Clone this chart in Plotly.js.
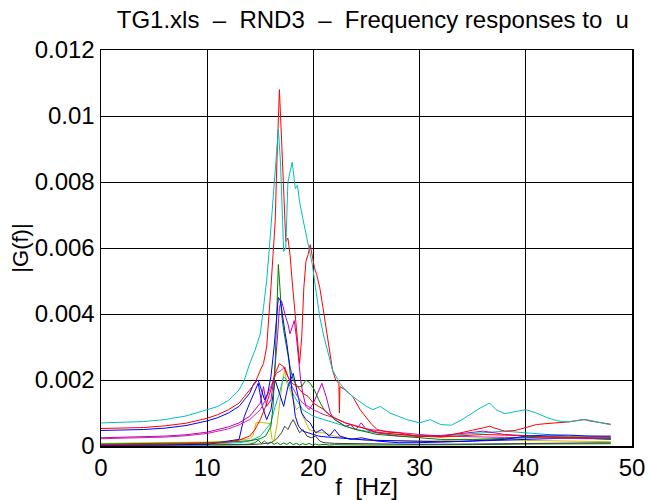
<!DOCTYPE html>
<html>
<head>
<meta charset="utf-8">
<script src="https://cdn.plot.ly/plotly-3.0.1.min.js"></script>
<style>html,body{margin:0;padding:0;background:#fff;}#chart{width:649px;height:500px;}</style>
</head>
<body>
<div id="chart"></div>
<script>
// Tick labels
var xTicks = [0, 10, 20, 30, 40, 50];
var yTicks = [0, 0.002, 0.004, 0.006, 0.008, 0.01, 0.012];
var yTickText = ['0', '0.002', '0.004', '0.006', '0.008', '0.01', '0.012'];

// Cyan (main)
var fCyan = [0,2,4,6,8,10,11,12,13,13.5,14,14.5,15,15.3,15.6,15.9,16.2,16.4,16.7,16.9,17.1,17.2,17.4,17.6,18.0,18.1,18.3,18.5,18.7,19.0,19.4,19.9,20.2,20.6,21.0,21.3,21.8,22.5,23,23.7,24.1,25,25.6,26.3,27.2,28,28.8,30,31,32,33,34,34.4,35,35.7,36.6,37.2,38,39,40,41,42,43,44,45,45.5,46,47,48];
var gCyan = [0.0007,0.00071,0.00074,0.0008,0.00091,0.0011,0.0012,0.00138,0.0017,0.002,0.0025,0.0029,0.0034,0.0042,0.005,0.0062,0.0075,0.0081,0.0096,0.0086,0.0065,0.0059,0.006,0.008,0.0086,0.0083,0.0078,0.0079,0.0074,0.0069,0.0063,0.0055,0.0048,0.0039,0.0033,0.0029,0.0023,0.0019,0.0017,0.0015,0.0014,0.0012,0.0011,0.0012,0.001,0.0009,0.0008,0.0007,0.0008,0.00065,0.00063,0.0008,0.00088,0.001,0.00115,0.0013,0.0011,0.00098,0.00103,0.0011,0.001,0.00086,0.00076,0.00073,0.00078,0.0008,0.00078,0.0007,0.00064];

// Red (main)
var fRed = [0,2,4,6,8,10,11,12,12.5,13,13.5,14,14.5,15,15.3,15.6,15.8,16.0,16.2,16.4,16.6,16.8,17.0,17.2,17.4,17.6,17.8,18.0,18.2,18.4,18.7,18.9,19.1,19.3,19.5,19.7,19.9,20.1,20.3,20.6,20.9,21.3,21.8,22.1,22.4,22.45,22.5,23,23.7,24.4,25,25.5,26,27,28,29,30,31,32,33,34,35,36,36.6,37,38,39,40,40.5,41,42,43,44,45,45.5,46,47,48];
var gRed = [0.00053,0.00054,0.00056,0.00061,0.00069,0.00084,0.00095,0.0011,0.0012,0.0013,0.0015,0.0017,0.0019,0.0023,0.0025,0.003,0.0038,0.0048,0.0058,0.0068,0.009,0.0108,0.0093,0.0075,0.0062,0.0063,0.0058,0.005,0.0043,0.0036,0.0025,0.0033,0.0048,0.0056,0.0058,0.0061,0.0057,0.0054,0.0052,0.0048,0.0042,0.0034,0.0023,0.002,0.0019,0.001,0.0018,0.0017,0.0015,0.0011,0.00085,0.00065,0.0005,0.00042,0.0004,0.00035,0.00028,0.0003,0.00028,0.00034,0.0004,0.00048,0.00055,0.0006,0.00055,0.00045,0.00047,0.00055,0.0006,0.00065,0.00068,0.0007,0.00073,0.00078,0.0008,0.00076,0.0007,0.00066];

// Red (second)
var fRed2 = [0,5,10,12,13,14,14.5,15,15.5,16,16.4,16.8,17.2,17.6,18,18.5,19,19.5,20,20.5,21,21.5,22,23,24,25,26,27,28,30,32,34,36,38,40,42,44,46,48];
var gRed2 = [0.00004,0.00005,0.00008,0.00012,0.00018,0.0003,0.0005,0.0008,0.0012,0.0017,0.0022,0.0025,0.0024,0.0021,0.0019,0.0018,0.0016,0.0015,0.0013,0.0012,0.0011,0.00095,0.00085,0.0007,0.0006,0.0005,0.00042,0.00038,0.00035,0.0003,0.00027,0.0003,0.00035,0.00033,0.0003,0.00028,0.00027,0.00027,0.00026];

// Blue (main)
var fBlue = [0,2,4,6,8,10,11,12,13,13.5,14,14.4,14.8,15.1,15.4,15.7,16.0,16.3,16.5,16.7,16.9,17.1,17.3,17.5,17.7,17.9,18.1,18.3,18.6,19,19.5,20,20.5,21,22,23,24,25,26,27,28,30,32,34,36,38,40,42,44,46,48];
var gBlue = [0.00047,0.00048,0.0005,0.00054,0.00062,0.00076,0.00086,0.001,0.0012,0.0014,0.0016,0.0019,0.002,0.0017,0.0014,0.0016,0.0021,0.003,0.0038,0.0045,0.0044,0.0039,0.0035,0.0031,0.0026,0.0019,0.0013,0.0009,0.0006,0.00045,0.0004,0.00035,0.0003,0.00028,0.00025,0.00022,0.0002,0.00018,0.00017,0.00016,0.00015,0.00013,0.00013,0.00014,0.00016,0.0002,0.0003,0.00033,0.00033,0.0003,0.0003];

// Blue (second)
var fBlue2 = [0,10,13,13.5,14,14.5,14.8,15.2,15.6,16,16.4,16.8,17.2,17.6,18.1,18.5,18.9,19.3,19.7,20.2,20.8,21.5,22,22.5,23.5,24.5,26,28,30,35,40,45,48];
var gBlue2 = [0.00002,0.00005,0.0002,0.0009,0.0013,0.0017,0.0019,0.0012,0.0008,0.0011,0.002,0.0016,0.0012,0.0018,0.0022,0.0016,0.001,0.0008,0.0007,0.0004,0.0005,0.0003,0.0005,0.0003,0.0002,0.00025,0.00015,0.0001,0.0001,0.00015,0.0002,0.00025,0.0002];

// Magenta (main)
var fMag = [0,2,4,6,8,10,12,13,14,14.5,15,15.3,15.6,16,16.3,16.6,16.8,17.0,17.2,17.4,17.6,17.8,18.0,18.2,18.4,18.6,18.8,19.0,19.3,19.6,20,20.4,20.8,21.2,21.6,22,22.5,23,23.5,24,24.5,25,25.5,26,27,28,30,32,34,36,38,40,42,44,46,48];
var gMag = [0.00025,0.00026,0.00027,0.0003,0.00034,0.00042,0.00058,0.0007,0.0009,0.0011,0.0013,0.0018,0.0012,0.0014,0.0021,0.0032,0.0042,0.0044,0.0041,0.0039,0.0037,0.0034,0.0036,0.0038,0.0033,0.0026,0.002,0.0016,0.0012,0.0011,0.0013,0.0016,0.0019,0.0015,0.001,0.0008,0.0007,0.0006,0.00064,0.0005,0.0007,0.0005,0.00045,0.0004,0.00035,0.0003,0.0003,0.00032,0.00038,0.00045,0.00035,0.0003,0.00027,0.00025,0.00024,0.00022];

// Magenta (second)
var fMag2 = [0,2,4,6,8,10,12,13,14,15,15.5,16,16.5,17,17.3,17.6,18,18.5,19,19.5,20,21,22,23,24,25,26,28,30,32,34,36,38,40,42,44,46,48];
var gMag2 = [0.00022,0.00023,0.00024,0.00027,0.00031,0.00038,0.00052,0.00064,0.0008,0.0011,0.0014,0.0018,0.0022,0.0023,0.0024,0.0021,0.0018,0.0015,0.0013,0.0012,0.0011,0.00095,0.00085,0.0007,0.0006,0.00052,0.00047,0.0004,0.00035,0.0003,0.00028,0.00027,0.00026,0.00025,0.00024,0.00023,0.00022,0.00021];

// Green (main)
var fGreen = [0,5,10,12,14,15,15.5,16,16.2,16.4,16.55,16.7,16.85,17,17.2,17.5,17.8,18.1,18.5,18.9,19.3,19.7,20.1,20.5,21,21.5,22,22.5,23,24,25,26,28,30,32,35,38,40,42,44,46,48];
var gGreen = [0.00006,0.00007,0.0001,0.00012,0.00016,0.00022,0.0003,0.0006,0.0012,0.0025,0.0042,0.0055,0.0048,0.004,0.0035,0.0029,0.0024,0.002,0.0018,0.0018,0.002,0.0019,0.0017,0.0014,0.0011,0.00095,0.0008,0.0007,0.0006,0.0005,0.00042,0.00035,0.0003,0.00025,0.0002,0.0002,0.00022,0.00025,0.00028,0.00027,0.00025,0.00022];

// Green (low)
var fGreen2 = [0,5,10,13,14,14.5,14.8,15.1,15.4,15.7,16,16.3,16.6,16.9,17.2,17.5,17.8,18.1,18.4,18.7,19,19.3,19.6,19.9,20.2,20.5,21,21.5,22,23,24,25,26,28,30,35,40,45,48];
var gGreen2 = [0.00002,0.00002,0.00003,0.00004,0.00006,0.0001,0.00018,0.00008,0.00015,0.00006,0.00012,0.00005,0.0001,0.00004,0.00009,0.00005,0.00011,0.00004,0.00008,0.00003,0.00007,0.00004,0.00008,0.00003,0.00006,0.00003,0.00005,0.00003,0.00004,0.00003,0.00004,0.00003,0.00003,0.00003,0.00003,0.00004,0.00006,0.00008,0.00007];

// Yellow
var fYellow = [0,5,10,12,13,14,14.3,14.6,15,15.5,15.9,16.1,16.3,16.6,16.9,17.1,17.3,17.5,17.8,18.1,18.4,18.7,19,19.3,19.6,20,20.5,21,21.5,22,23,24,25,26,28,30,32,34,36,38,40,42,44,46,48];
var gYellow = [0.00008,0.00009,0.00012,0.00015,0.00018,0.00022,0.0003,0.0007,0.00072,0.0007,0.00068,0.0002,0.00015,0.0007,0.0015,0.002,0.0023,0.0019,0.0017,0.0014,0.0011,0.0012,0.0009,0.0007,0.0005,0.00045,0.0004,0.0004,0.00035,0.0003,0.00025,0.0002,0.00018,0.00017,0.00015,0.00015,0.00016,0.00018,0.0002,0.00018,0.00017,0.00016,0.00015,0.00014,0.00013];

// Grey
var fGrey = [0,10,14,15,16,16.5,17,17.3,17.6,17.9,18.1,18.4,18.7,19,19.4,19.8,20.2,20.6,21,22,24,26,30,35,40,45,48];
var gGrey = [0.00001,0.00002,0.00004,0.00006,0.0001,0.0002,0.0004,0.0006,0.0005,0.0007,0.0008,0.0006,0.0004,0.0005,0.0003,0.00025,0.0003,0.00015,0.0001,0.00008,0.00007,0.00006,0.00005,0.00006,0.00008,0.0001,0.0001];

// Cyan (second)
var fCyan2 = [0,5,10,13,14,15,15.5,16,16.4,16.8,17.2,17.5,17.8,18.2,18.6,19,19.5,20,21,22,23,24,25,26,28,30,32,34,36,38,40,42,44,46,48];
var gCyan2 = [0.00003,0.00004,0.00006,0.0001,0.00015,0.0003,0.0005,0.0007,0.0012,0.0016,0.0021,0.002,0.0018,0.0015,0.0013,0.0011,0.001,0.0009,0.0008,0.0007,0.0006,0.0005,0.00045,0.0004,0.00035,0.00033,0.0003,0.00035,0.0004,0.00045,0.0004,0.00035,0.0003,0.0003,0.00028];

var series = [
  [fGreen2, gGreen2, '#007f00'],
  [fGrey, gGrey, '#404040'],
  [fYellow, gYellow, '#bfbf00'],
  [fCyan2, gCyan2, '#00bfbf'],
  [fBlue2, gBlue2, '#0000ff'],
  [fMag2, gMag2, '#d0209f'],
  [fMag, gMag, '#bf00bf'],
  [fGreen, gGreen, '#008000'],
  [fRed2, gRed2, '#ff0000'],
  [fBlue, gBlue, '#0000ff'],
  [fRed, gRed, '#ff0000'],
  [fCyan, gCyan, '#00bfbf']
];

var traces = series.map(function (s) {
  return {x: s[0], y: s[1], type: 'scatter', mode: 'lines',
          line: {color: s[2], width: 1}, hoverinfo: 'skip'};
});

var font = 'Liberation Sans, Arial, Helvetica, sans-serif';
var axisCommon = {
  showgrid: true, gridcolor: '#000000', gridwidth: 1,
  showline: true, linecolor: '#000000', linewidth: 1.5, mirror: true,
  zeroline: false, ticks: 'inside', ticklen: 5, tickcolor: '#000000',
  tickfont: {family: font, size: 24, color: '#000000'}
};

var layout = {
  width: 649, height: 500,
  margin: {l: 101, r: 17, t: 50, b: 54},
  paper_bgcolor: '#ffffff', plot_bgcolor: '#ffffff',
  showlegend: false,
  title: {text: 'TG1.xls\u00a0\u00a0\u2013\u00a0\u00a0RND3\u00a0\u00a0\u2013\u00a0\u00a0Frequency responses to\u00a0\u00a0u',
          font: {family: font, size: 24, color: '#000000'},
          x: 0.512, xref: 'paper', xanchor: 'center', y: 0.96, yref: 'container', yanchor: 'middle'},
  xaxis: Object.assign({}, axisCommon, {
    range: [0, 50], tickvals: xTicks, ticktext: xTicks.map(String),
    title: {text: 'f\u00a0\u00a0[Hz]', font: {family: font, size: 24, color: '#000000'}, standoff: 8}
  }),
  yaxis: Object.assign({}, axisCommon, {
    range: [0, 0.012], tickvals: yTicks, ticktext: yTickText,
    title: {text: '|G(f)|', font: {family: font, size: 22, color: '#000000'}, standoff: 0}
  })
};

Plotly.newPlot('chart', traces, layout, {staticPlot: true, displayModeBar: false});
</script>
</body>
</html>
